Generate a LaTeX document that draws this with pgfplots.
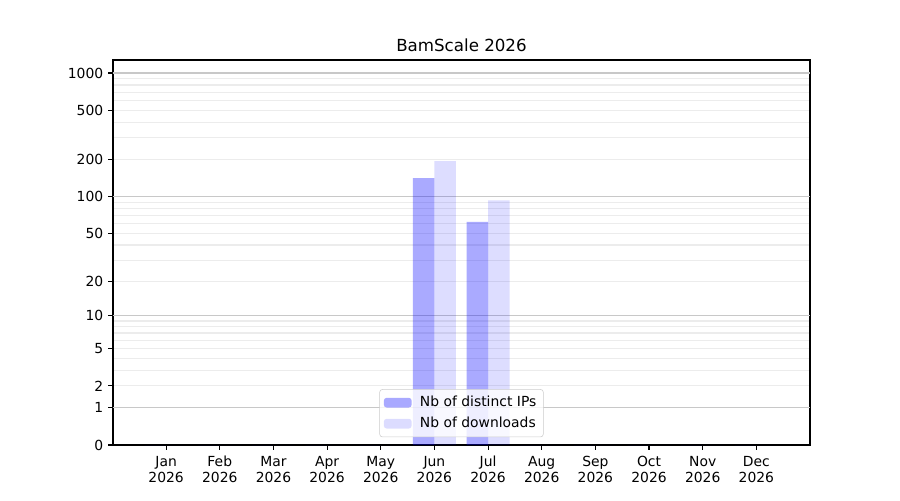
\documentclass[border=0pt]{standalone}
\usepackage{fontspec}
\setmainfont{DejaVu Sans}
\usepackage{pgfplots}
\pgfplotsset{compat=1.18}
\definecolor{majgrid}{RGB}{200,200,200}
\definecolor{mingrid}{RGB}{236,236,236}
\begin{document}
\begin{tikzpicture}
\begin{axis}[
 scale only axis, width=501.84pt, height=277.2pt,
 at={(0pt,0pt)}, anchor=south west,
 xmin=-0.99, xmax=12.0, ymin=0, ymax=1273,
 y coord trafo/.code={\pgfmathparse{log10(1+#1)}},
 y coord inv trafo/.code={\pgfmathparse{10^(#1)-1}},
 font=\fontsize{10}{12}\selectfont,
 /pgf/number format/assume math mode=true,
 axis line style={line width=0.8pt},
 every tick/.style={black, line width=0.8pt},
 tick align=outside, major tick length=3.5pt, minor tick length=0pt,
 xtick pos=bottom, ytick pos=left,
 xtick={0,...,11},
 xticklabels={Jan\\2026,Feb\\2026,Mar\\2026,Apr\\2026,May\\2026,Jun\\2026,Jul\\2026,Aug\\2026,Sep\\2026,Oct\\2026,Nov\\2026,Dec\\2026},
 xticklabel style={align=center, font=\fontsize{10}{11.5}\selectfont, yshift=-1pt},
 ytick={0,1,2,5,10,20,50,100,200,500,1000},
 yticklabels={0,1,2,5,10,20,50,100,200,500,1000},
 minor ytick={3,4,6,7,8,9,30,40,60,70,80,90,300,400,600,700,800,900},
 ymajorgrids, yminorgrids,
 major grid style={mingrid, line width=0.8pt},
 minor grid style={mingrid, line width=0.8pt},
 extra y ticks={1,10,100,1000},
 extra y tick labels={},
 extra y tick style={grid=major, major grid style={majgrid, line width=0.8pt}, major tick length=0pt},
 title={BamScale 2026},
 title style={font=\fontsize{12}{14}\selectfont, yshift=-3.6pt},
 legend style={at={(0.5,0.021)}, anchor=south, outer sep=0pt, draw={rgb,255:red,204;green,204;blue,204}, rounded corners=2pt, fill=white, fill opacity=0.8, text opacity=1, font=\fontsize{10}{12}\selectfont, row sep=2pt, inner xsep=3pt, inner ysep=3pt},
 legend cell align=left,
 legend image code/.code={\path[#1, draw=none] (0pt,-3.5pt) rectangle (20pt,3.5pt); \path (24pt,0pt);},
]
\addplot[ybar, bar width=0.4, bar shift=-0.2, fill=blue, fill opacity=0.333, draw=none]
 coordinates {(0,0) (1,0) (2,0) (3,0) (4,0) (5,141) (6,62) (7,0) (8,0) (9,0) (10,0) (11,0)};
\addlegendentry{Nb of distinct IPs}
\addplot[ybar, bar width=0.4, bar shift=0.2, fill=blue, fill opacity=0.133, draw=none]
 coordinates {(0,0) (1,0) (2,0) (3,0) (4,0) (5,194) (6,93) (7,0) (8,0) (9,0) (10,0) (11,0)};
\addlegendentry{Nb of downloads}
\end{axis}
\pgfresetboundingbox
\useasboundingbox (-81.36pt,-39.6pt) rectangle (566.64pt,320.4pt);
\end{tikzpicture}
\end{document}
